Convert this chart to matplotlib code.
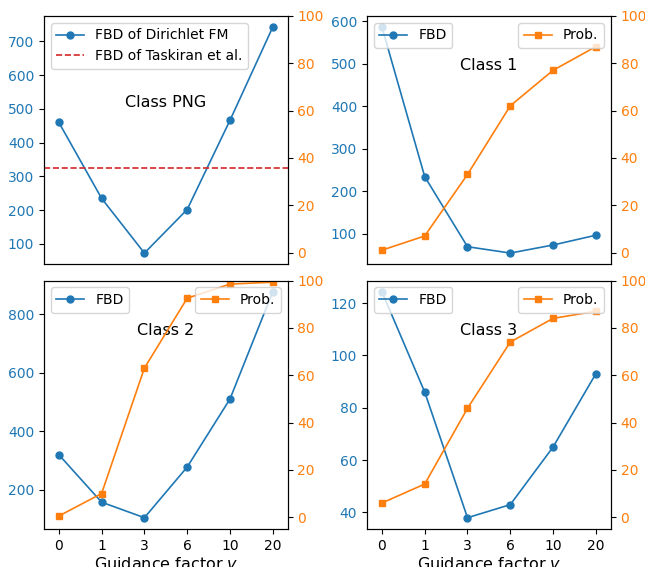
import matplotlib
matplotlib.use("Agg")
import matplotlib.pyplot as plt
import numpy as np

guidance = ["0", "1", "3", "6", "10", "20"]

fbd_png = [460, 235, 73, 202, 466, 742]
taskiran_png = 325

fbd_c1 = [586, 234, 69, 54, 73, 96]
prob_c1 = [1, 7, 33, 62, 77, 87]

fbd_c2 = [320, 158, 105, 278, 510, 876]
prob_c2 = [0.5, 10, 63, 92.5, 98.5, 99.3]

fbd_c3 = [124.3, 86, 38, 43, 65, 93]
prob_c3 = [6, 14, 46, 74, 84, 87]

blue = "tab:blue"
orange = "tab:orange"

fig, axes = plt.subplots(2, 2, figsize=(6.45, 5.67), dpi=100)
fig.subplots_adjust(left=0.068, right=0.947, top=0.972, bottom=0.067,
                    wspace=0.325, hspace=0.065)

x = np.arange(len(guidance))

panels = [
    (axes[0, 0], fbd_png, None, "Class PNG", 0.65),
    (axes[0, 1], fbd_c1, prob_c1, "Class 1", 0.80),
    (axes[1, 0], fbd_c2, prob_c2, "Class 2", 0.80),
    (axes[1, 1], fbd_c3, prob_c3, "Class 3", 0.80),
]

for i, (ax, fbd, prob, title, ty) in enumerate(panels):
    ax2 = ax.twinx()
    if prob is None:
        ax.plot(x, fbd, "-o", color=blue, ms=5, lw=1.2, label="FBD of Dirichlet FM")
        ax.axhline(taskiran_png, color="tab:red", ls="--", lw=1.2,
                   label="FBD of Taskiran et al.")
        ax.legend(loc="upper left", fontsize=10)
    else:
        ax.plot(x, fbd, "-o", color=blue, ms=5, lw=1.2, label="FBD")
        ax2.plot(x, prob, "-s", color=orange, ms=5, lw=1.2, label="Prob.")
        ax.legend(loc="upper left", fontsize=10)
        ax2.legend(loc="upper right", fontsize=10)
    ax2.set_ylim(-5, 100)
    ax2.set_yticks([0, 20, 40, 60, 80, 100])
    ax.tick_params(axis="y", labelcolor=blue, labelsize=10)
    ax2.tick_params(axis="y", labelcolor=orange, labelsize=10)
    ax.text(0.5, ty, title, transform=ax.transAxes, ha="center", va="center",
            fontsize=11.5)
    ax.set_xlim(-0.35, 5.35)
    if i < 2:
        ax.set_xticks([])
    else:
        ax.set_xticks(x)
        ax.set_xticklabels(guidance, fontsize=10)
        ax.set_xlabel("Guidance factor $v$", fontsize=11.5, labelpad=2)

fig.savefig("out.png", dpi=100)
